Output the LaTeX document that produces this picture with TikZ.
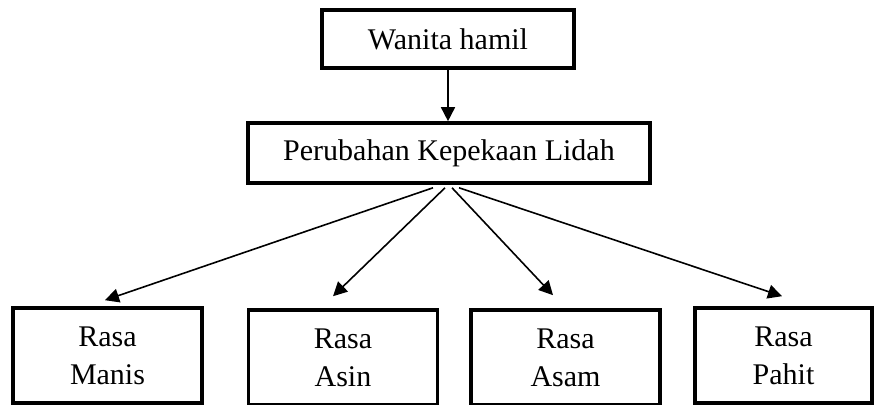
\documentclass[tikz,border=0pt]{standalone}
\usepackage{fontspec}
\setmainfont{Liberation Serif}
\usetikzlibrary{arrows.meta,positioning}

\begin{document}
\begin{tikzpicture}[x=0.5pt, y=-0.5pt,
    box/.style={draw, line width=1.8pt, align=center, inner sep=0pt,
                font=\fontsize{15}{19}\selectfont},
    rasa/.style={box, minimum width=94.5pt, minimum height=47.5pt},
    arr/.style={-{Triangle[length=7pt,width=7pt]}, line width=0.8pt}]
  \useasboundingbox (0,0) rectangle (877,405);

  \node[box, minimum width=126pt, minimum height=29pt] (wanita) at (448,39) {Wanita hamil};
  \node[box, minimum width=201pt, minimum height=30pt] (lidah) at (449,153) {Perubahan Kepekaan Lidah};

  \node[rasa] (manis) at (107.5,355.5) {Rasa\\Manis};
  \node[rasa] (asin) at (343,357.5) {Rasa\\Asin};
  \node[rasa] (asam) at (565.5,357.5) {Rasa\\Asam};
  \node[rasa, minimum width=88.5pt] (pahit) at (783.5,355.5) {Rasa\\Pahit};

  \draw[arr] (wanita.south) -- (wanita.south |- lidah.north);

  \draw[arr] ([xshift=-8pt, yshift=-1.5pt]lidah.south) -- ([xshift=-1.25pt, yshift=3pt]manis.north);
  \draw[arr] ([xshift=-2pt, yshift=-1.5pt]lidah.south) -- ([xshift=-5pt, yshift=6pt]asin.north);
  \draw[arr] ([xshift=1.5pt, yshift=-1.5pt]lidah.south) -- ([xshift=-6.25pt, yshift=6.5pt]asam.north);
  \draw[arr] ([xshift=5pt, yshift=-1.5pt]lidah.south) -- ([xshift=-0.75pt, yshift=5pt]pahit.north);
\end{tikzpicture}
\end{document}
